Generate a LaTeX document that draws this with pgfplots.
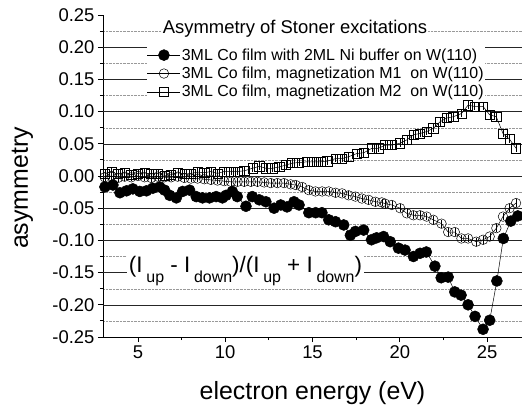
\documentclass[border=0pt]{standalone}
\usepackage{fontspec}
\setmainfont{Liberation Sans}
\usepackage{pgfplots}
\usepackage{pgfplotstable}
\pgfplotsset{compat=1.18}
\usetikzlibrary{calc}

% 3ML Co film with 2ML Ni buffer
\pgfplotstableread{
x y
3.11 -0.017
3.57 -0.014
3.97 -0.026
4.35 -0.023
4.71 -0.020
5.11 -0.024
5.49 -0.023
5.85 -0.019
6.25 -0.017
6.53 -0.022
6.82 -0.030
7.20 -0.034
7.56 -0.024
7.96 -0.022
8.34 -0.032
8.70 -0.034
9.10 -0.034
9.48 -0.032
9.84 -0.034
10.05 -0.030
10.41 -0.024
10.69 -0.032
11.19 -0.047
11.55 -0.032
11.95 -0.037
12.33 -0.040
12.80 -0.050
13.18 -0.045
13.54 -0.048
13.94 -0.040
14.23 -0.045
14.79 -0.057
15.18 -0.057
15.54 -0.057
15.93 -0.068
16.32 -0.071
16.79 -0.076
17.17 -0.092
17.46 -0.086
17.93 -0.084
18.38 -0.099
18.67 -0.096
19.07 -0.094
19.45 -0.102
19.92 -0.112
20.30 -0.115
20.78 -0.125
21.16 -0.120
21.52 -0.118
22.01 -0.140
22.37 -0.158
22.77 -0.157
23.15 -0.180
23.51 -0.185
23.91 -0.200
24.31 -0.218
24.77 -0.238
25.15 -0.224
25.56 -0.163
25.93 -0.097
26.36 -0.070
26.76 -0.062
}\niBuffer

% magnetization M1
\pgfplotstableread{
x y
3.10 -0.002
3.48 0.000
3.86 -0.003
4.24 -0.001
4.62 -0.002
5.00 0.000
5.38 -0.002
5.76 -0.003
6.14 -0.001
6.52 -0.002
6.90 -0.002
7.28 -0.001
7.66 -0.003
8.04 -0.004
8.42 -0.004
8.80 -0.005
9.18 -0.006
9.56 -0.007
9.94 -0.008
10.33 -0.009
10.71 -0.009
11.09 -0.009
11.47 -0.009
11.85 -0.009
12.23 -0.010
12.61 -0.011
12.99 -0.011
13.37 -0.011
13.75 -0.013
14.04 -0.014
14.41 -0.017
14.79 -0.022
15.17 -0.024
15.55 -0.024
15.93 -0.024
16.32 -0.026
16.69 -0.027
17.07 -0.030
17.46 -0.032
17.83 -0.035
18.21 -0.037
18.60 -0.040
18.97 -0.041
19.16 -0.043
19.54 -0.045
20.02 -0.050
20.40 -0.058
20.78 -0.061
21.16 -0.061
21.54 -0.063
21.92 -0.068
22.39 -0.074
22.77 -0.087
23.15 -0.087
23.53 -0.097
23.91 -0.097
24.38 -0.102
24.77 -0.099
25.15 -0.094
25.53 -0.081
25.91 -0.063
26.29 -0.050
26.66 -0.042
}\magOne

% magnetization M2
\pgfplotstableread{
x y
3.10 0.004
3.48 0.006
3.86 0.003
4.24 0.005
4.62 0.002
5.00 0.004
5.38 0.005
5.76 0.003
6.14 0.004
6.52 0.001
6.90 0.002
7.28 0.005
7.66 0.003
8.04 0.004
8.42 0.006
8.80 0.005
9.18 0.007
9.56 0.004
9.94 0.007
10.33 0.007
10.71 0.007
11.09 0.008
11.56 0.012
11.95 0.015
12.33 0.012
12.70 0.012
13.09 0.014
13.47 0.017
13.84 0.020
14.23 0.021
14.70 0.022
15.08 0.022
15.46 0.022
15.84 0.023
16.32 0.027
16.69 0.027
17.07 0.030
17.55 0.035
17.93 0.036
18.40 0.043
18.78 0.043
19.17 0.048
19.54 0.048
20.02 0.051
20.40 0.056
20.78 0.064
21.16 0.066
21.54 0.069
21.92 0.074
22.30 0.084
22.68 0.090
23.06 0.092
23.53 0.097
23.91 0.110
24.29 0.108
24.77 0.108
25.15 0.095
25.53 0.092
25.91 0.066
26.29 0.057
26.66 0.043
}\magTwo

\newcommand\sub[1]{\,\raisebox{-0.45em}{\fontsize{16}{16}\selectfont #1}}
\newcommand\legfont{\fontsize{16}{17}\selectfont}

\begin{document}
\begin{tikzpicture}
\begin{axis}[
    scale only axis,
    width=419bp, height=322bp,
    xmin=3, xmax=27, ymin=-0.25, ymax=0.25,
    axis x line*=bottom, axis y line*=left,
    axis line style={line width=0.8bp},
    xtick={5,10,15,20,25}, minor x tick num=1,
    ytick={-0.25,-0.20,-0.15,-0.10,-0.05,0,0.05,0.10,0.15,0.20,0.25},
    minor y tick num=1,
    tick align=outside,
    major tick length=5bp, minor tick length=3bp,
    every tick/.style={black, line width=0.8bp},
    /pgf/number format/assume math mode=true,
    tick label style={font=\fontsize{18.5}{20}\selectfont},
    yticklabel style={/pgf/number format/.cd, fixed, fixed zerofill, precision=2},
    yminorgrids=true,
    minor grid style={densely dotted, black!40, line width=0.4pt},
    extra y ticks={-0.20,-0.15,-0.10,-0.05,0,0.05,0.10,0.15,0.20},
    extra y tick labels={},
    extra y tick style={ymajorgrids=true, major tick length=0pt,
        major grid style={black!85, line width=0.5pt}},
    legend style={at={(rel axis cs:0.105,0.90)}, anchor=north west,
        draw=none, fill=white, inner sep=0pt, row sep=3pt,
        nodes={inner sep=1.2pt, font=\legfont}},
    legend cell align=left,
    legend image code/.code={
        \draw[mark repeat=2, mark phase=2]
            plot coordinates {(0bp,0bp) (16.5bp,0bp) (33bp,0bp)};},
    clip mode=individual,
]
\addplot[black, line width=0.5pt, mark=*, mark size=5.5bp,
    mark options={fill=black}] table {\niBuffer};
\addlegendentry{3ML Co film with 2ML Ni buffer on W(110)}
\addplot[black, line width=0.5pt, mark=o, mark size=4.8bp,
    error bars/.cd, y dir=both, y fixed=0.006,
    error bar style={line width=0.4pt}, error mark=none] table {\magOne};
\addlegendentry{3ML Co film, magnetization M1\ \ on W(110)}
\addplot[black, line width=0.5pt, mark=square, mark size=4.6bp,
    error bars/.cd, y dir=both, y fixed=0.006,
    error bar style={line width=0.4pt}, error mark=none] table {\magTwo};
\addlegendentry{3ML Co film, magnetization M2\ \ on W(110)}

\node[fill=white, inner sep=1pt, anchor=base west,
    font=\fontsize{18.5}{20}\selectfont] at (rel axis cs:0.14,0.944)
    {Asymmetry of Stoner excitations};
\node[fill=white, inner sep=1.5pt, anchor=west,
    font=\fontsize{22.5}{24}\selectfont] at (rel axis cs:0.058,0.205)
    {(I\sub{up} - I\sub{down})/(I\sub{up} + I\sub{down})};

\coordinate (sw) at (rel axis cs:0,0);
\coordinate (ne) at (rel axis cs:1,1);
\end{axis}
\node[anchor=base, inner sep=0pt, font=\fontsize{25}{28}\selectfont]
    at ($(sw)+(209.5bp,-62bp)$) {electron energy (eV)};
\node[anchor=base, rotate=90, inner sep=0pt, font=\fontsize{25}{28}\selectfont]
    at ($(sw)+(-75bp,149bp)$) {asymmetry};
\pgfresetboundingbox
\path[use as bounding box] ($(sw)+(-103bp,-72bp)$) rectangle ($(ne)+(0,15bp)$);
\end{tikzpicture}
\end{document}
